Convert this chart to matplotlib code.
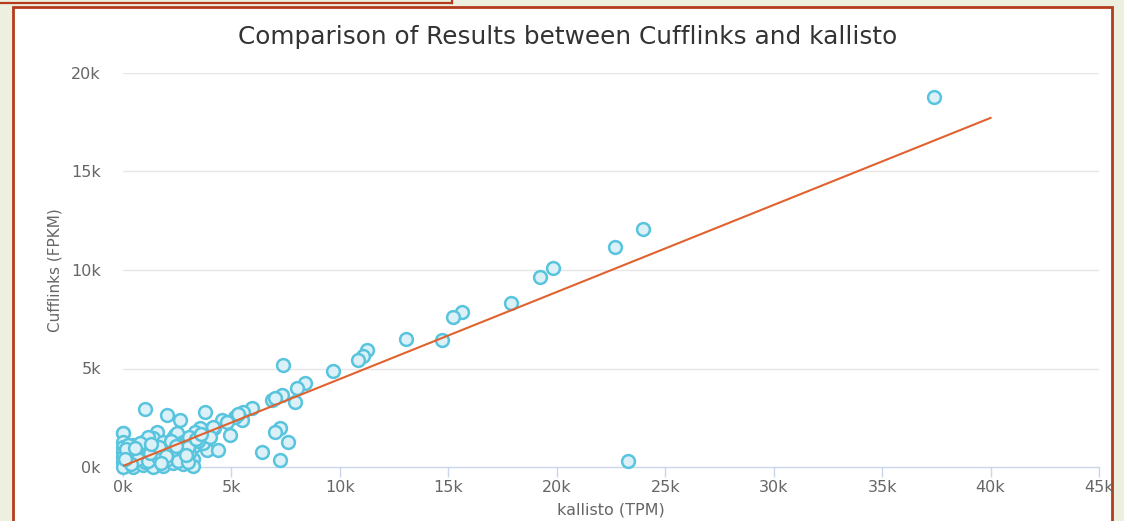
import matplotlib
matplotlib.use("Agg")
import matplotlib.pyplot as plt
from matplotlib.patches import Rectangle
from matplotlib.lines import Line2D
import numpy as np

# Expression estimates per transcript: kallisto (TPM) vs Cufflinks (FPKM)
kallisto_tpm = [
    37390, 23970, 22680, 19840, 19230, 17870, 15610, 15230, 14690, 13050,
    11230, 11080, 10850, 9700, 8390, 8010, 7930, 7390, 7320, 6860,
    7010, 23280, 7240, 7010, 7620, 6390, 7240, 5930, 5550, 5470,
    5160, 4550, 4930, 3780, 3710, 4200, 3850, 4390, 2630, 2010,
    1010, 20, 1550, 3550, 4160, 2930, 2400, 5300, 4800, 3300,
    0, 0, 0, 0, 0, 0, 0,
    480, 480, 480, 480, 480,
    940, 940, 940, 940,
    1400, 1400, 1400, 1400, 1400,
    1860, 1860, 1860, 1860,
    2320, 2320, 2320, 2320,
    2470, 2780, 2780, 2780, 2780,
    3020, 3240, 3240, 3240, 3050, 3700, 1150, 700, 250, 1700,
    2100, 2600, 3450, 4000, 1000, 600, 250,
    240, 700, 1170, 1170, 1630, 2090, 2550, 2550, 3010, 3010,
    150, 350, 800, 1250, 1650, 2000, 2200, 2900, 3350, 3600,
    100, 550, 1300, 1750, 2450,
]
cufflinks_fpkm = [
    18780, 12080, 11170, 10090, 9660, 8310, 7880, 7630, 6450, 6510,
    5940, 5630, 5430, 4870, 4250, 3990, 3310, 5180, 3650, 3400,
    3500, 300, 1960, 1790, 1280, 780, 360, 2980, 2800, 2390,
    2550, 2390, 1620, 2810, 1880, 1980, 860, 860, 2390, 2640,
    2930, 1710, 1790, 1960, 2050, 1460, 1620, 2700, 2300, 1800,
    1710, 1280, 1030, 770, 520, 260, 20,
    1100, 770, 520, 260, 20,
    1280, 1030, 520, 100,
    1450, 1030, 600, 200, 20,
    1280, 770, 300, 50,
    1450, 1030, 600, 200,
    1710, 1280, 900, 520, 150,
    1540, 1030, 400, 50, 700, 1200, 1500, 900, 1100, 400,
    700, 1100, 1300, 1500, 250, 350, 500,
    640, 390, 900, 300, 520, 400, 800, 300, 1000, 250,
    900, 150, 1200, 700, 1000, 550, 1300, 600, 1400, 1700,
    400, 950, 1150, 200, 1050,
]

# Fitted trend line endpoints (x in TPM, y in FPKM)
trend_x = [0, 40000]
trend_y = [50, 17720]

x_ticks = [0, 5000, 10000, 15000, 20000, 25000, 30000, 35000, 40000, 45000]
y_ticks = [0, 5000, 10000, 15000, 20000]

title_text = "Comparison of Results between Cufflinks and kallisto"
x_label = "kallisto (TPM)"
y_label = "Cufflinks (FPKM)"

W, H = 1124, 521
fig = plt.figure(figsize=(W / 100, H / 100), dpi=100)
fig.patch.set_facecolor("#eef0df")

frame_color = "#b33b1e"

# White chart panel with its dark red frame
panel = Rectangle((13 / W, -0.05), (1112 - 13) / W, 1 - 7 / H + 0.05,
                  transform=fig.transFigure, facecolor="white",
                  edgecolor=frame_color, linewidth=2.0, zorder=-5)
fig.patches.append(panel)

# Outline of the box sitting above the panel at the top left
fig.lines.append(Line2D([0, 452 / W], [1 - 3 / H, 1 - 3 / H],
                        transform=fig.transFigure, color=frame_color, lw=1.6,
                        zorder=-4))
fig.lines.append(Line2D([452 / W, 452 / W], [1 - 3 / H, 1.0],
                        transform=fig.transFigure, color=frame_color, lw=1.6,
                        zorder=-4))

left, right = 123 / W, 1099 / W
bottom, top = 1 - 467 / H, 1 - 73 / H
ax = fig.add_axes([left, bottom, right - left, top - bottom])
ax.set_facecolor("none")
ax.set_zorder(1)

ax.set_xlim(0, 45000)
ax.set_ylim(0, 20000)

for yv in y_ticks[1:]:
    ax.axhline(yv, color="#e6e6e6", lw=1.0, zorder=0)

for s in ["top", "right", "left"]:
    ax.spines[s].set_visible(False)
ax.spines["bottom"].set_color("#ccd6eb")
ax.spines["bottom"].set_linewidth(1.0)

ax.set_xticks(x_ticks)
ax.set_xticklabels([f"{v // 1000}k" for v in x_ticks])
ax.set_yticks(y_ticks)
ax.set_yticklabels([f"{v // 1000}k" for v in y_ticks])
ax.tick_params(axis="x", colors="#ccd6eb", labelcolor="#666666", length=7.5,
               width=1.0, labelsize=11.5, pad=2)
ax.tick_params(axis="y", length=0, labelcolor="#666666", labelsize=11.5, pad=16)

ax.scatter(kallisto_tpm, cufflinks_fpkm, s=85, facecolor="#dcf0f7",
           edgecolor="#58c4dd", linewidths=1.8, zorder=3, clip_on=False)
ax.plot(trend_x, trend_y, color="#e0622f", lw=1.5, zorder=4)

ax.set_xlabel(x_label, color="#666666", fontsize=11.5, labelpad=5)
ax.set_ylabel(y_label, color="#666666", fontsize=11, labelpad=6)

fig.text(568 / W, 1 - 37 / H, title_text, ha="center", va="center",
         fontsize=17.8, color="#333333")

fig.savefig("out.png", dpi=100, facecolor=fig.get_facecolor())
